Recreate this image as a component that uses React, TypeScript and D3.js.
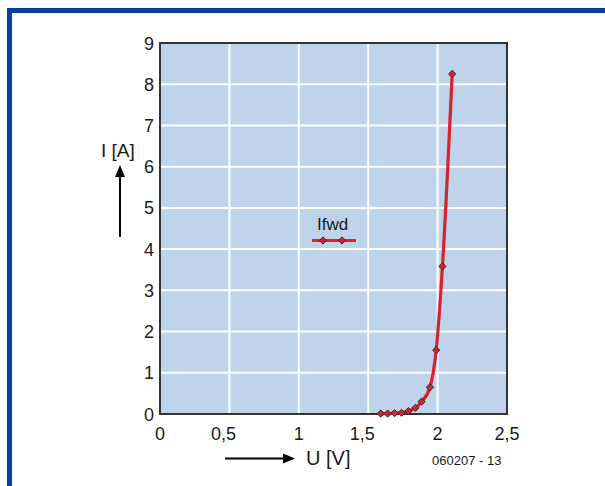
import * as d3 from "d3";

const voltage = [1.59, 1.64, 1.69, 1.74, 1.79, 1.84, 1.885, 1.945, 1.99, 2.035, 2.105];
const current = [0.01, 0.01, 0.02, 0.03, 0.07, 0.15, 0.3, 0.65, 1.55, 3.58, 8.25];
const xTicks = [0, 0.5, 1, 1.5, 2, 2.5];
const yTicks = [0, 1, 2, 3, 4, 5, 6, 7, 8, 9];

const W = 605;
const H = 486;
const plot = { left: 160, right: 507, top: 43, bottom: 414 };
const font = "Liberation Sans, Arial, sans-serif";

const fmt = (v: number) => String(v).replace(".", ",");

function Diamond({ x, y }: { x: number; y: number }) {
  const s = 3.6;
  return (
    <path
      d={`M${x},${y - s}L${x + s},${y}L${x},${y + s}L${x - s},${y}Z`}
      fill="#d8232f"
      stroke="#3a2a2a"
      strokeWidth={1}
    />
  );
}

export default function App() {
  const x = d3.scaleLinear().domain([0, 2.5]).range([plot.left, plot.right]);
  const y = d3.scaleLinear().domain([0, 9]).range([plot.bottom, plot.top]);
  const pts = voltage.map((u, i) => [u, current[i]] as [number, number]);
  const line = d3
    .line<[number, number]>()
    .x((d) => x(d[0]))
    .y((d) => y(d[1]))
    .curve(d3.curveMonotoneX);

  return (
    <svg
      width={W}
      height={H}
      style={{ position: "absolute", left: 0, top: 0, fontFamily: font }}
    >
      <rect x={0} y={0} width={W} height={H} fill="#fff" />
      {/* blue frame */}
      <rect x={7} y={8} width={W - 7} height={5} fill="#0d3f9b" />
      <rect x={7} y={8} width={5} height={H - 8} fill="#0d3f9b" />

      {/* plot area */}
      <rect
        x={plot.left}
        y={plot.top}
        width={plot.right - plot.left}
        height={plot.bottom - plot.top}
        fill="#bfd3ea"
      />
      {xTicks.slice(1, -1).map((t) => (
        <line key={"gx" + t} x1={x(t)} x2={x(t)} y1={plot.top} y2={plot.bottom} stroke="#fff" strokeWidth={2} />
      ))}
      {yTicks.slice(1, -1).map((t) => (
        <line key={"gy" + t} x1={plot.left} x2={plot.right} y1={y(t)} y2={y(t)} stroke="#fff" strokeWidth={2} />
      ))}
      <rect
        x={plot.left}
        y={plot.top}
        width={plot.right - plot.left}
        height={plot.bottom - plot.top}
        fill="none"
        stroke="#333"
        strokeWidth={2}
      />

      {/* curve */}
      <path d={line(pts) || ""} fill="none" stroke="#d8232f" strokeWidth={3.2} />
      {pts.map((p, i) => (
        <Diamond key={i} x={x(p[0])} y={y(p[1])} />
      ))}

      {/* tick labels */}
      {yTicks.map((t) => (
        <text key={"ty" + t} x={plot.left - 6} y={y(t) + 6.5} textAnchor="end" fontSize={18} fill="#1a1a1a">
          {t}
        </text>
      ))}
      {xTicks.map((t) => (
        <text
          key={"tx" + t}
          x={x(t)}
          dx={Number.isInteger(t) || t > 2 ? 0 : -6}
          y={440}
          textAnchor="middle"
          fontSize={18}
          fill="#1a1a1a"
        >
          {fmt(t)}
        </text>
      ))}

      {/* legend */}
      <text x={317} y={230} fontSize={17} fill="#1a1a1a">Ifwd</text>
      <line x1={312} x2={356} y1={240.5} y2={240.5} stroke="#d8232f" strokeWidth={3} />
      <Diamond x={323} y={240.5} />
      <Diamond x={342} y={240.5} />

      {/* axis titles */}
      <text x={101} y={157} fontSize={19} fill="#1a1a1a">I [A]</text>
      <line x1={120} x2={120} y1={237} y2={175} stroke="#000" strokeWidth={2} />
      <path d="M120,165L125,177L115,177Z" fill="#000" />

      <text x={306} y={465} fontSize={20} fill="#1a1a1a">U [V]</text>
      <line x1={225} x2={284} y1={458.5} y2={458.5} stroke="#000" strokeWidth={2} />
      <path d="M295,458.5L283,453.5L283,463.5Z" fill="#000" />

      <text x={432} y={465} fontSize={13} fill="#1a1a1a">060207 - 13</text>
    </svg>
  );
}
